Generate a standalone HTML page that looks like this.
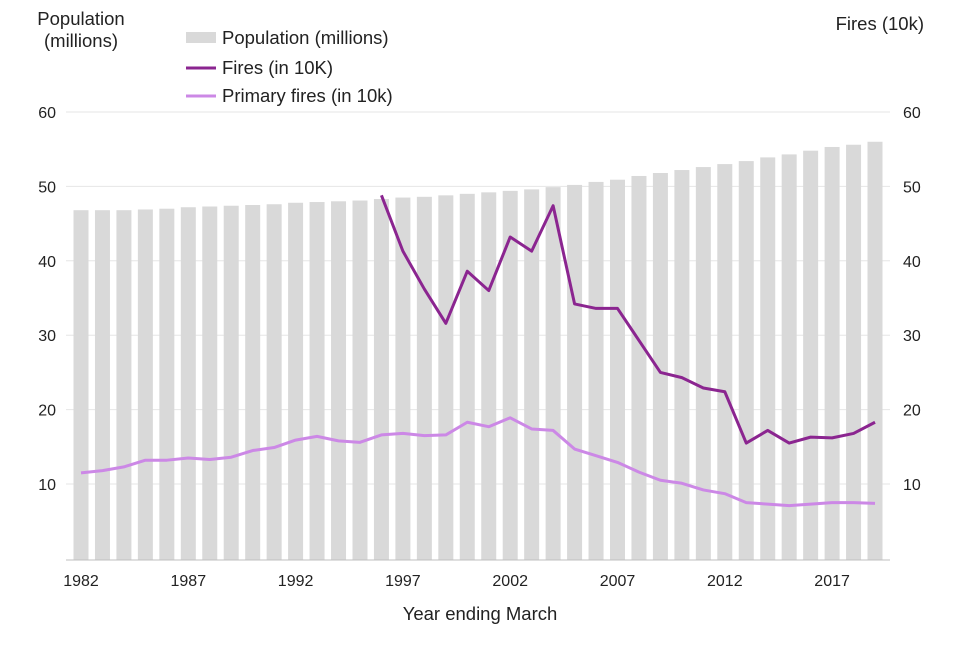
<!DOCTYPE html>
<html><head><meta charset="utf-8"><style>
body{margin:0;background:#fff;font-family:"Liberation Sans",Arial,sans-serif}
svg text{font-family:"Liberation Sans",Arial,sans-serif;fill:#222}
</style></head><body>
<svg id="c" width="960" height="640" xmlns="http://www.w3.org/2000/svg"></svg>
<script>
const years=[];for(let y=1982;y<=2019;y++)years.push(y);
const population=[46.8,46.8,46.8,46.9,47.0,47.2,47.3,47.4,47.5,47.6,47.8,47.9,48.0,48.1,48.3,48.5,48.6,48.8,49.0,49.2,49.4,49.6,49.9,50.2,50.6,50.9,51.4,51.8,52.2,52.6,53.0,53.4,53.9,54.3,54.8,55.3,55.6,56.0];
const fireYears=[1996,1997,1998,1999,2000,2001,2002,2003,2004,2005,2006,2007,2008,2009,2010,2011,2012,2013,2014,2015,2016,2017,2018,2019];
const fires=[48.8,41.3,36.2,31.6,38.6,36.0,43.2,41.3,47.4,34.2,33.6,33.6,29.3,25.0,24.3,22.9,22.4,15.5,17.2,15.5,16.3,16.2,16.8,18.3];
const primaryFires=[11.5,11.8,12.3,13.2,13.2,13.5,13.3,13.6,14.5,14.9,15.9,16.4,15.8,15.6,16.6,16.8,16.5,16.6,18.3,17.7,18.9,17.4,17.2,14.7,13.8,12.9,11.6,10.5,10.1,9.2,8.7,7.5,7.3,7.1,7.3,7.5,7.5,7.4];
const yTicks=[10,20,30,40,50,60];
const xLabels=[1982,1987,1992,1997,2002,2007,2012,2017];

const NS="http://www.w3.org/2000/svg",svg=document.getElementById('c');
function el(t,a,p){const e=document.createElementNS(NS,t);for(const k in a)e.setAttribute(k,a[k]);(p||svg).appendChild(e);return e;}
const xS=y=>81+(y-1982)*21.46;
const yS=v=>558.4-v*7.44;
yTicks.forEach(v=>{
 const g=el('line',{x1:66,x2:890,y1:yS(v),y2:yS(v),stroke:'#e6e6e6','stroke-width':1});
 
 
 const l=el('text',{x:56,y:yS(v)+6,'text-anchor':'end','font-size':16});l.textContent=v;
 
 
 const r=el('text',{x:903,y:yS(v)+6,'font-size':16});r.textContent=v;
 
 
});
years.forEach((y,i)=>{
 const b=el('rect',{x:xS(y)-7.5,y:yS(population[i]),width:15,height:yS(0)-yS(population[i])+1.6,fill:'#d9d9d9'});
 
 
});
const ax=el('line',{x1:66,x2:890,y1:560,y2:560,stroke:'#bfbfbf'});


xLabels.forEach(y=>{
 const l=el('text',{x:xS(y),y:586,'text-anchor':'middle','font-size':16});l.textContent=y;
 
 
});
const p1=el('polyline',{points:years.map((y,i)=>xS(y)+','+yS(primaryFires[i])).join(' '),fill:'none',stroke:'#cc88e6','stroke-width':3,'stroke-linejoin':'round'});


const p2=el('polyline',{points:fireYears.map((y,i)=>xS(y)+','+yS(fires[i])).join(' '),fill:'none',stroke:'#8b2590','stroke-width':3,'stroke-linejoin':'round'});


function txt(x,y,s,n,a){const t=el('text',{x:x,y:y,'font-size':18.5,'text-anchor':a||'start'});t.textContent=s;return t;}
txt(81,25,'Population','left-axis-title-line1','middle');
txt(81,47,'(millions)','left-axis-title-line2','middle');
txt(924,30,'Fires (10k)','right-axis-title','end');
txt(480,620,'Year ending March','x-axis-title','middle');
const lr=el('rect',{x:186,y:32,width:30,height:11,fill:'#d9d9d9'});
txt(222,44,'Population (millions)','legend-population');
const l2=el('line',{x1:186,x2:216,y1:68,y2:68,stroke:'#8b2590','stroke-width':3});
txt(222,74,'Fires (in 10K)','legend-fires');
const l3=el('line',{x1:186,x2:216,y1:96,y2:96,stroke:'#cc88e6','stroke-width':3});
txt(222,102,'Primary fires (in 10k)','legend-primary-fires');
</script>
</body></html>
